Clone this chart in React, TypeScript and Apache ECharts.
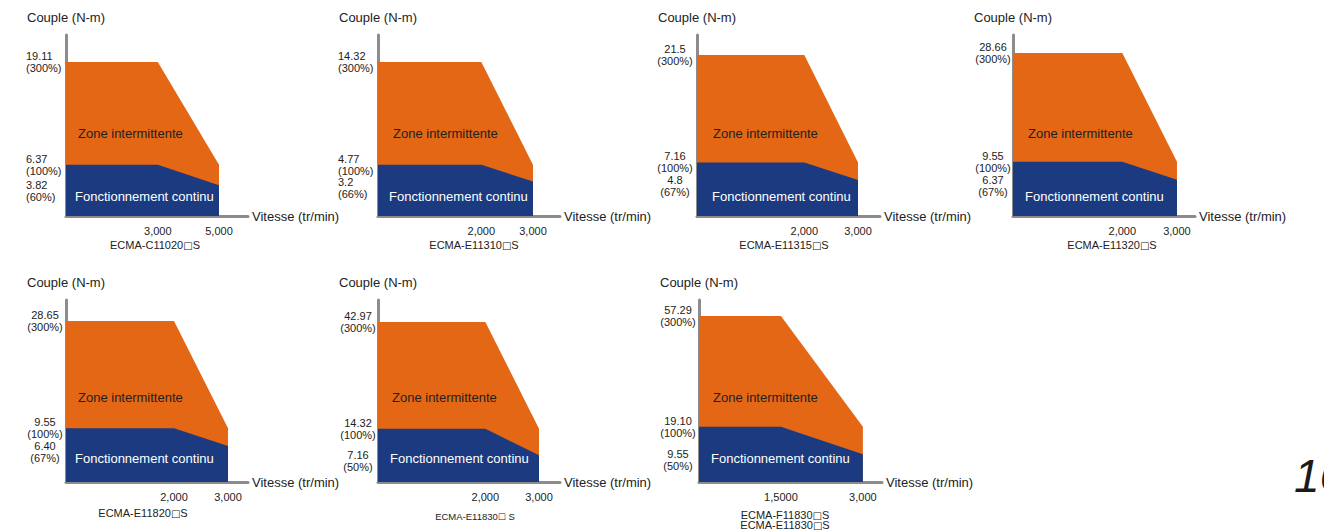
import React, { useEffect, useRef } from "react";
import * as echarts from "echarts";

// ---- data ----
const modelNames = [
  ["ECMA-C11020"],
  ["ECMA-E11310"],
  ["ECMA-E11315"],
  ["ECMA-E11320"],
  ["ECMA-E11820"],
  ["ECMA-E11830"],
  ["ECMA-F11830", "ECMA-E11830"],
];
const modelSuffix = ["S", "S", "S", "S", "S", " S", "S"];
const torquePeak = [19.11, 14.32, 21.5, 28.66, 28.65, 42.97, 57.29];
const torquePeakLabels = ["19.11", "14.32", "21.5", "28.66", "28.65", "42.97", "57.29"];
const torqueRated = [6.37, 4.77, 7.16, 9.55, 9.55, 14.32, 19.1];
const torqueRatedLabels = ["6.37", "4.77", "7.16", "9.55", "9.55", "14.32", "19.10"];
const torqueLow = [3.82, 3.2, 4.8, 6.37, 6.4, 7.16, 9.55];
const torqueLowLabels = ["3.82", "3.2", "4.8", "6.37", "6.40", "7.16", "9.55"];
const lowPct = ["60%", "66%", "67%", "67%", "67%", "50%", "50%"];
const speedBreak = [3000, 2000, 2000, 2000, 2000, 2000, 1500];
const speedMax = [5000, 3000, 3000, 3000, 3000, 3000, 3000];
const speedBreakLabels = ["3,000", "2,000", "2,000", "2,000", "2,000", "2,000", "1,5000"];
const speedMaxLabels = ["5,000", "3,000", "3,000", "3,000", "3,000", "3,000", "3,000"];

// ---- layout ----
const gridLeft = [66, 378, 697, 1013, 66, 378, 699];
const gridTop = [35, 35, 35, 35, 300, 300, 300];
const gridW = [182, 182, 183, 182, 182, 182, 183];
const gridH = [181, 181, 181, 181, 182, 182, 182];
const xMaxArr = [5948, 3523, 3410, 3330, 3370, 3391, 3350];
const peakFrac = [0.851, 0.851, 0.8895, 0.9006, 0.8846, 0.879, 0.912];
const yLabelAlign = ["left", "left", "center", "center", "center", "center", "center"];
const yLabelMargin = [40, 40, 22, 20, 21, 20, 21];
const zoneDx = [12, 15, 16, 15, 12, 14, 14];
const fonctDx = [9, 11, 15, 12, 9, 12, 12];
const modelX = [155, 474, 784, 1112, 143, 475, 785];
const modelY = [245, 245, 245, 245, 513, 516, 515];
const modelSize = [11, 11, 11, 11, 11, 9.5, 11];

const FONT = '"Liberation Sans", Arial, sans-serif';
const BOXFONT = '"DejaVu Sans", sans-serif';
const ORANGE = "#E36715";
const BLUE = "#1B3A80";
const TEXT = "#222222";
const AXIS = "#8c8c8c";

export default function App() {
  const ref = useRef<HTMLDivElement>(null);
  useEffect(() => {
    if (!ref.current) return;
    const chart = echarts.init(ref.current, null, { renderer: "svg" });
    const grids: any[] = [];
    const xAxes: any[] = [];
    const yAxes: any[] = [];
    const series: any[] = [];
    const graphic: any[] = [];
    for (let i = 0; i < modelNames.length; i++) {
      grids.push({ left: gridLeft[i], top: gridTop[i], width: gridW[i], height: gridH[i] });
      xAxes.push({
        type: "value",
        gridIndex: i,
        min: 0,
        max: xMaxArr[i],
        name: "Vitesse (tr/min)",
        nameLocation: "end",
        nameGap: 4,
        nameTextStyle: { fontFamily: FONT, fontSize: 13, color: TEXT, verticalAlign: "middle" },
        axisLine: { show: true, lineStyle: { color: AXIS, width: 3 } },
        axisTick: { show: false },
        splitLine: { show: false },
        axisLabel: {
          customValues: [speedBreak[i], speedMax[i]],
          formatter: (v: number) => (v === speedBreak[i] ? speedBreakLabels[i] : speedMaxLabels[i]),
          fontFamily: FONT,
          fontSize: 11,
          color: TEXT,
          margin: 9,
          showMinLabel: true,
          showMaxLabel: true,
        },
      });
      const yMax = torquePeak[i] / peakFrac[i];
      const labelBase = {
        fontFamily: FONT,
        fontSize: 11,
        lineHeight: 12,
        color: TEXT,
        align: yLabelAlign[i],
        margin: yLabelMargin[i],
        showMinLabel: true,
        showMaxLabel: true,
        hideOverlap: false,
      };
      // main axis: 300% and 100% labels
      yAxes.push({
        type: "value",
        gridIndex: i,
        position: "left",
        offset: 0,
        min: 0,
        max: yMax,
        name: "Couple (N-m)",
        nameLocation: "end",
        nameGap: 11,
        nameTextStyle: { fontFamily: FONT, fontSize: 13, color: TEXT, align: "center" },
        axisLine: { show: true, lineStyle: { color: AXIS, width: 3 } },
        axisTick: { show: false },
        splitLine: { show: false },
        axisLabel: {
          ...labelBase,
          customValues: [torqueRated[i], torquePeak[i]],
          formatter: (v: number) =>
            v === torquePeak[i]
              ? torquePeakLabels[i] + "\n(300%)"
              : torqueRatedLabels[i] + "\n(100%)",
        },
      });
      // companion axis on the same grid for the reduced-torque label
      yAxes.push({
        type: "value",
        gridIndex: i,
        position: "left",
        offset: 0,
        min: 0,
        max: yMax,
        axisLine: { show: false },
        axisTick: { show: false },
        splitLine: { show: false },
        axisLabel: {
          ...labelBase,
          customValues: [torqueLow[i]],
          formatter: () => "\n" + torqueLowLabels[i] + "\n(" + lowPct[i] + ")",
        },
      });
      series.push({
        type: "line",
        xAxisIndex: i,
        yAxisIndex: 2 * i,
        symbol: "none",
        lineStyle: { width: 0 },
        areaStyle: { color: ORANGE, opacity: 1 },
        data: [
          [0, torquePeak[i]],
          [speedBreak[i], torquePeak[i]],
          [speedMax[i], torqueRated[i]],
        ],
        z: 2,
      });
      series.push({
        type: "line",
        xAxisIndex: i,
        yAxisIndex: 2 * i,
        symbol: "none",
        lineStyle: { width: 0 },
        areaStyle: { color: BLUE, opacity: 1 },
        data: [
          [0, torqueRated[i]],
          [speedBreak[i], torqueRated[i]],
          [speedMax[i], torqueLow[i]],
        ],
        z: 3,
      });
      const bottom = gridTop[i] + gridH[i];
      const topRow = gridTop[i] < 100;
      graphic.push({
        type: "text",
        left: gridLeft[i] + zoneDx[i],
        top: bottom - (topRow ? 82 : 84) - 7,
        z: 10,
        style: { text: "Zone intermittente", fontFamily: FONT, fontSize: 13, fill: TEXT },
      });
      graphic.push({
        type: "text",
        left: gridLeft[i] + fonctDx[i],
        top: bottom - (topRow ? 19 : 23) - 7,
        z: 10,
        style: { text: "Fonctionnement continu", fontFamily: FONT, fontSize: 13, fill: "#ffffff" },
      });
      const fs = modelSize[i];
      modelNames[i].forEach((n, k) => {
        graphic.push({
          type: "text",
          x: modelX[i],
          y: modelY[i] + k * 10,
          z: 10,
          style: {
            text: "{a|" + n + "}{b|□}{a|" + modelSuffix[i] + "}",
            align: "center",
            verticalAlign: "middle",
            rich: {
              a: { fontFamily: FONT, fontSize: fs, fill: TEXT },
              b: { fontFamily: BOXFONT, fontSize: fs - 1, fill: TEXT },
            },
          },
        });
      });
    }
    graphic.push({
      type: "text",
      x: 1294,
      y: 476,
      z: 10,
      style: {
        text: "16",
        fontFamily: FONT,
        fontSize: 46,
        fontStyle: "italic",
        fill: "#1a1a1a",
        verticalAlign: "middle",
      },
    });
    chart.setOption({
      animation: false,
      backgroundColor: "#ffffff",
      grid: grids,
      xAxis: xAxes,
      yAxis: yAxes,
      series,
      graphic,
    });
    return () => chart.dispose();
  }, []);
  return (
    <div
      ref={ref}
      style={{ position: "absolute", left: 0, top: 0, width: 1324, height: 530 }}
    />
  );
}
